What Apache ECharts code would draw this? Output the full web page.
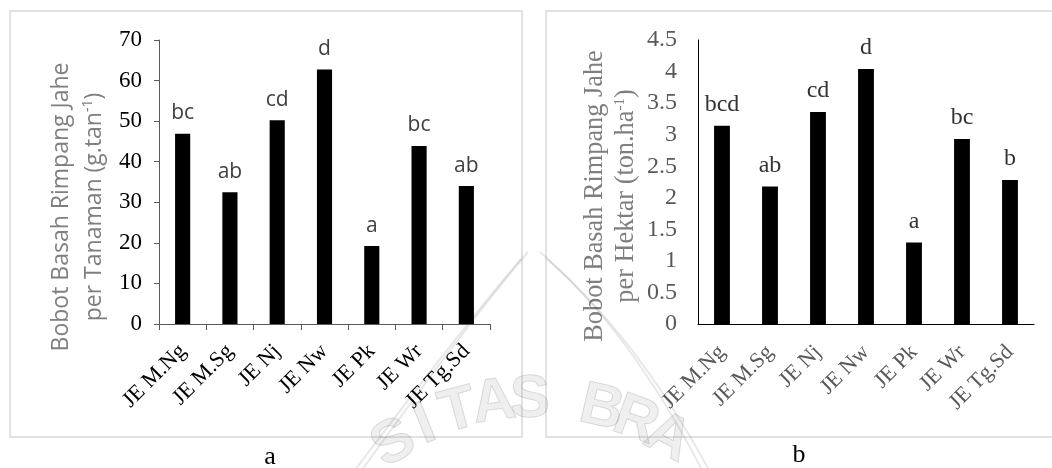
<!DOCTYPE html>
<html>
<head>
<meta charset="utf-8">
<script src="https://cdn.jsdelivr.net/npm/echarts@6/dist/echarts.min.js"></script>
<style>
html,body{margin:0;padding:0;background:#fff;}
#c{width:1052px;height:468px;}
</style>
</head>
<body>
<div id="c"></div>
<script>
var categories = ['JE M.Ng', 'JE M.Sg', 'JE Nj', 'JE Nw', 'JE Pk', 'JE Wr', 'JE Tg.Sd'];
var valuesA = [46.9, 32.5, 50.2, 62.7, 19.2, 43.9, 34.0];
var lettersA = ['bc', 'ab', 'cd', 'd', 'a', 'bc', 'ab'];
var valuesB = [3.14, 2.18, 3.36, 4.04, 1.29, 2.93, 2.28];
var lettersB = ['bcd', 'ab', 'cd', 'd', 'a', 'bc', 'b'];
var titleA = ['Bobot Basah Rimpang Jahe{sp| }', 'per Tanaman (g.tan{sup|-1}){sp| }'];
var titleB = ['Bobot Basah Rimpang Jahe{sp| }', 'per Hektar (ton.ha{sup|-1}){sp| }'];
var watermark = ['S', 'I', 'T', 'A', 'S', ' ', 'B', 'R', 'A'];

var chart = echarts.init(document.getElementById('c'));
var serif = 'Liberation Serif';
var sans = 'Open Sans';

var wmGraphics = [];
(function () {
  var cx = 535, cy = 650, R = 250;
  var step = 0.145;
  var start = -0.6;
  for (var i = 0; i < watermark.length; i++) {
    if (watermark[i] === ' ') continue;
    var th = start + i * step;
    wmGraphics.push({
      type: 'text', z: 100,
      x: cx + R * Math.sin(th), y: cy - R * Math.cos(th),
      rotation: -th * 0.85,
      style: { text: watermark[i], fill: 'rgba(120,120,120,0.12)', stroke: 'rgba(110,110,110,0.22)', lineWidth: 1,
        font: 'bold 60px "Liberation Sans"', align: 'center', verticalAlign: 'middle' }
    });
  }
  var arcStyle = { stroke: 'rgba(0,0,0,0.09)', lineWidth: 2, fill: 'none' };
  [0, 7].forEach(function (o) {
    wmGraphics.push({ type: 'bezierCurve', z: 99, silent: true,
      shape: { x1: 528 - o, y1: 252 + o, cpx1: 470 - o, cpy1: 320 + o, x2: 362 - o, y2: 470 }, style: arcStyle });
    wmGraphics.push({ type: 'bezierCurve', z: 99, silent: true,
      shape: { x1: 540 + o, y1: 252 + o, cpx1: 630 + o, cpy1: 330 + o, x2: 702 + o, y2: 470 }, style: arcStyle });
  });
})();

var option = {
  animation: false,
  backgroundColor: '#fff',
  graphic: [
    { type: 'rect', shape: { x: 10, y: 11, width: 512, height: 426 }, style: { fill: 'none', stroke: '#d9d9d9', lineWidth: 1.5 }, z: -1 },
    { type: 'rect', shape: { x: 546, y: 11, width: 520, height: 426 }, style: { fill: 'none', stroke: '#d9d9d9', lineWidth: 1.5 }, z: -1 },
    { type: 'text', x: 270, y: 457, style: { text: 'a', font: '26px "Liberation Serif"', fill: '#000', align: 'center', verticalAlign: 'middle' } },
    { type: 'text', x: 799, y: 455, style: { text: 'b', font: '26px "Liberation Serif"', fill: '#000', align: 'center', verticalAlign: 'middle' } }
  ].concat(wmGraphics),
  grid: [
    { left: 159, top: 40, width: 331, height: 284 },
    { left: 698, top: 40, width: 336, height: 284 }
  ],
  xAxis: [
    {
      type: 'category', gridIndex: 0, data: categories,
      axisLine: { lineStyle: { color: '#595959', width: 1 } },
      axisTick: { show: true, length: 6, lineStyle: { color: '#595959' } },
      axisLabel: { interval: 0, rotate: 45, fontFamily: serif, fontSize: 22, color: '#000', margin: 24 }
    },
    {
      type: 'category', gridIndex: 1, data: categories,
      axisLine: { lineStyle: { color: '#000', width: 1 } },
      axisTick: { show: false },
      axisLabel: { interval: 0, rotate: 45, fontFamily: serif, fontSize: 22, color: '#595959', margin: 25 }
    }
  ],
  yAxis: [
    {
      type: 'value', gridIndex: 0, min: 0, max: 70, interval: 10,
      axisLine: { show: true, lineStyle: { color: '#595959', width: 1 } },
      axisTick: { show: true, length: 5, lineStyle: { color: '#595959' } },
      splitLine: { show: false },
      axisLabel: { fontFamily: serif, fontSize: 23, color: '#000', margin: 17 },
      name: titleA.join('\n'), nameLocation: 'middle', nameRotate: 90, nameGap: 48,
      nameTextStyle: { fontFamily: sans, fontSize: 23, color: '#7f7f7f', lineHeight: 33,
        rich: {
          sup: { fontFamily: sans, fontSize: 14, color: '#7f7f7f', lineHeight: 33, padding: [0, 0, 12, 0] },
          sp: { width: 50, fontSize: 23, lineHeight: 33 }
        } }
    },
    {
      type: 'value', gridIndex: 1, min: 0, max: 4.5, interval: 0.5,
      axisLine: { show: true, lineStyle: { color: '#000', width: 1 } },
      axisTick: { show: false },
      splitLine: { show: false },
      axisLabel: { fontFamily: serif, fontSize: 24, color: '#595959', margin: 21 },
      name: titleB.join('\n'), nameLocation: 'middle', nameRotate: 90, nameGap: 56,
      nameTextStyle: { fontFamily: serif, fontSize: 26.3, color: '#7f7f7f', lineHeight: 31,
        rich: {
          sup: { fontFamily: serif, fontSize: 15, color: '#7f7f7f', lineHeight: 31, padding: [0, 0, 12, 0] },
          sp: { width: 28, fontSize: 26.3, lineHeight: 31 }
        } }
    }
  ],
  series: [
    {
      type: 'bar', xAxisIndex: 0, yAxisIndex: 0, data: valuesA, barWidth: '32%',
      itemStyle: { color: '#000' },
      label: { show: true, position: 'top', distance: 10, fontFamily: sans, fontSize: 21, color: '#404040',
        formatter: function (p) { return lettersA[p.dataIndex]; } }
    },
    {
      type: 'bar', xAxisIndex: 1, yAxisIndex: 1, data: valuesB, barWidth: '33%',
      itemStyle: { color: '#000' },
      label: { show: true, position: 'top', distance: 9, fontFamily: serif, fontSize: 24, color: '#333',
        formatter: function (p) { return lettersB[p.dataIndex]; } }
    }
  ]
};
chart.setOption(option);
</script>
</body>
</html>
